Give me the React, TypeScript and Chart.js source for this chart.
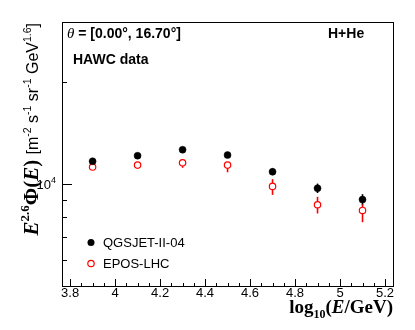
import React, { useEffect, useRef } from "react";
import { Chart, registerables } from "chart.js";

Chart.register(...registerables);

const X_VALUES = [3.9, 4.1, 4.3, 4.5, 4.7, 4.9, 5.1];
const QGSJET = [11700, 12150, 12650, 12200, 10900, 9750, 9030];
const QGSJET_ERR = [80, 120, 130, 165, 250, 310, 335];
const EPOS = [11250, 11400, 11580, 11400, 9870, 8720, 8390];
const EPOS_ERR_UP = [150, 155, 290, 235, 500, 480, 345];
const EPOS_ERR_DOWN = [150, 155, 385, 535, 550, 500, 640];
const X_TICKS = [3.8, 4.0, 4.2, 4.4, 4.6, 4.8, 5.0, 5.2];
const X_TICK_LABELS = ["3.8", "4", "4.2", "4.4", "4.6", "4.8", "5", "5.2"];
const Y_MAJOR_TICKS = [10000];
const Y_MINOR_TICKS = [6000, 7000, 8000, 9000, 20000];
const SERIES_NAMES = ["QGSJET-II-04", "EPOS-LHC"];

const SANS = '"Liberation Sans", Arial, sans-serif';
const SERIF = '"Liberation Serif", "Times New Roman", serif';
const RED = "#ff0000";

type Seg = { t: string; f: string; dy?: number };

function drawSegs(ctx: CanvasRenderingContext2D, segs: Seg[], x: number, y: number) {
  let cx = x;
  for (const s of segs) {
    ctx.font = s.f;
    ctx.fillText(s.t, cx, y + (s.dy || 0));
    cx += ctx.measureText(s.t).width;
  }
}
function segsWidth(ctx: CanvasRenderingContext2D, segs: Seg[]) {
  let w = 0;
  for (const s of segs) {
    ctx.font = s.f;
    w += ctx.measureText(s.t).width;
  }
  return w;
}

const errorBarPlugin = {
  id: "errorBars",
  beforeDatasetsDraw(chart: any) {
    const ctx = chart.ctx as CanvasRenderingContext2D;
    const xs = chart.scales.x;
    const ys = chart.scales.y;
    ctx.save();
    ctx.lineWidth = 1.6;
    X_VALUES.forEach((x, i) => {
      const px = xs.getPixelForValue(x);
      ctx.strokeStyle = "#000";
      ctx.beginPath();
      ctx.moveTo(px, ys.getPixelForValue(QGSJET[i] + QGSJET_ERR[i]));
      ctx.lineTo(px, ys.getPixelForValue(QGSJET[i] - QGSJET_ERR[i]));
      ctx.stroke();
      ctx.strokeStyle = RED;
      ctx.beginPath();
      ctx.moveTo(px, ys.getPixelForValue(EPOS[i] + EPOS_ERR_UP[i]));
      ctx.lineTo(px, ys.getPixelForValue(EPOS[i] - EPOS_ERR_DOWN[i]));
      ctx.stroke();
    });
    ctx.restore();
  },
};

const framePlugin = {
  id: "rootFrame",
  afterDraw(chart: any) {
    const ctx = chart.ctx as CanvasRenderingContext2D;
    const { left, right, top, bottom } = chart.chartArea;
    const xs = chart.scales.x;
    const ys = chart.scales.y;
    ctx.save();
    // frame
    ctx.strokeStyle = "#000";
    ctx.lineWidth = 1;
    ctx.strokeRect(left + 0.5, top + 0.5, right - left - 1, bottom - top - 1);
    // x ticks
    ctx.beginPath();
    const x0 = X_TICKS[0];
    const xEnd = X_TICKS[X_TICKS.length - 1];
    for (let k = 0; x0 + k * 0.05 <= xEnd + 1e-9; k++) {
      const v = x0 + k * 0.05;
      const px = Math.round(xs.getPixelForValue(v)) + 0.5;
      const len = k % 4 === 0 ? 8 : 4;
      ctx.moveTo(px, bottom);
      ctx.lineTo(px, bottom - len);
    }
    // y ticks
    for (const v of Y_MAJOR_TICKS) {
      const py = Math.round(ys.getPixelForValue(v)) + 0.5;
      ctx.moveTo(left, py);
      ctx.lineTo(left + 10, py);
    }
    for (const v of Y_MINOR_TICKS) {
      const py = Math.round(ys.getPixelForValue(v)) + 0.5;
      ctx.moveTo(left, py);
      ctx.lineTo(left + 5, py);
    }
    ctx.stroke();

    ctx.fillStyle = "#000";
    // x tick labels
    ctx.textAlign = "center";
    ctx.textBaseline = "alphabetic";
    ctx.font = `13px ${SANS}`;
    X_TICKS.forEach((v, i) => {
      ctx.fillText(X_TICK_LABELS[i], xs.getPixelForValue(v), 297);
    });
    // y tick label 10^4
    for (const v of Y_MAJOR_TICKS) {
      const py = ys.getPixelForValue(v);
      const exp = String(Math.round(Math.log10(v)));
      ctx.textAlign = "left";
      ctx.font = `9px ${SANS}`;
      const ew = ctx.measureText(exp).width;
      ctx.font = `13px ${SANS}`;
      const bw = ctx.measureText("10").width;
      const endX = 56;
      ctx.fillText("10", endX - ew - bw, py + 5);
      ctx.font = `9px ${SANS}`;
      ctx.fillText(exp, endX - ew, py - 1);
    }
    ctx.textAlign = "left";

    // x title
    const xt: Seg[] = [
      { t: "log", f: `bold 19px ${SERIF}` },
      { t: "10", f: `bold 12px ${SERIF}`, dy: 5 },
      { t: "(", f: `bold 19px ${SERIF}` },
      { t: "E", f: `italic bold 19px ${SERIF}` },
      { t: "/GeV)", f: `bold 19px ${SERIF}` },
    ];
    drawSegs(ctx, xt, right - 1 - segsWidth(ctx, xt), 313);

    // y title
    const yt: Seg[] = [
      { t: "E", f: `italic bold 21px ${SERIF}` },
      { t: "2.6", f: `bold 13px ${SERIF}`, dy: -9 },
      { t: "Φ(", f: `bold 21px ${SERIF}` },
      { t: "E", f: `italic bold 21px ${SERIF}` },
      { t: ") ", f: `bold 21px ${SERIF}` },
      { t: "[m", f: `16px ${SANS}` },
      { t: "-2", f: `10.5px ${SANS}`, dy: -7 },
      { t: " s", f: `16px ${SANS}` },
      { t: "-1", f: `10.5px ${SANS}`, dy: -7 },
      { t: " sr", f: `16px ${SANS}` },
      { t: "-1", f: `10.5px ${SANS}`, dy: -7 },
      { t: " GeV", f: `16px ${SANS}` },
      { t: "1.6", f: `10.5px ${SANS}`, dy: -7 },
      { t: "]", f: `16px ${SANS}` },
    ];
    const yw = segsWidth(ctx, yt);
    ctx.save();
    ctx.translate(38, top + 1 + yw);
    ctx.rotate(-Math.PI / 2);
    drawSegs(ctx, yt, 0, 0);
    ctx.restore();

    // annotations
    drawSegs(
      ctx,
      [
        { t: "θ", f: `italic 15px ${SERIF}` },
        { t: " = [0.00°, 16.70°]", f: `bold 14px ${SANS}` },
      ],
      67,
      38
    );
    ctx.font = `bold 14px ${SANS}`;
    ctx.fillText("H+He", 328, 38);
    ctx.fillText("HAWC data", 73, 64);

    // legend
    ctx.beginPath();
    ctx.arc(91, 242.5, 3.5, 0, Math.PI * 2);
    ctx.fillStyle = "#000";
    ctx.fill();
    ctx.beginPath();
    ctx.arc(91, 263.5, 3.2, 0, Math.PI * 2);
    ctx.fillStyle = "#fff";
    ctx.fill();
    ctx.strokeStyle = RED;
    ctx.lineWidth = 1.2;
    ctx.stroke();
    ctx.fillStyle = "#000";
    ctx.font = `13px ${SANS}`;
    ctx.fillText(SERIES_NAMES[0], 103, 247);
    ctx.fillText(SERIES_NAMES[1], 103, 268);
    ctx.restore();
  },
};

export default function App() {
  const ref = useRef<HTMLCanvasElement | null>(null);
  useEffect(() => {
    document.body.style.margin = "0";
    if (!ref.current) return;
    const chart = new Chart(ref.current, {
      type: "scatter",
      data: {
        datasets: [
          {
            label: SERIES_NAMES[0],
            data: X_VALUES.map((x, i) => ({ x, y: QGSJET[i] })),
            pointRadius: 3.5,
            pointBackgroundColor: "#000",
            pointBorderColor: "#000",
            pointBorderWidth: 0.5,
          },
          {
            label: SERIES_NAMES[1],
            data: X_VALUES.map((x, i) => ({ x, y: EPOS[i] })),
            pointRadius: 3.2,
            pointBackgroundColor: "#fff",
            pointBorderColor: RED,
            pointBorderWidth: 1.2,
          },
        ],
      },
      options: {
        responsive: false,
        animation: false,
        layout: { padding: { left: 62, right: 21, top: 22, bottom: 43 } },
        plugins: { legend: { display: false }, tooltip: { enabled: false } },
        scales: {
          x: { type: "linear", min: 3.764, max: 5.24, display: false },
          y: { type: "logarithmic", min: 5000, max: 30000, display: false },
        },
      },
      plugins: [errorBarPlugin, framePlugin],
    });
    return () => chart.destroy();
  }, []);
  return <canvas ref={ref} width={415} height={330} style={{ display: "block" }} />;
}
